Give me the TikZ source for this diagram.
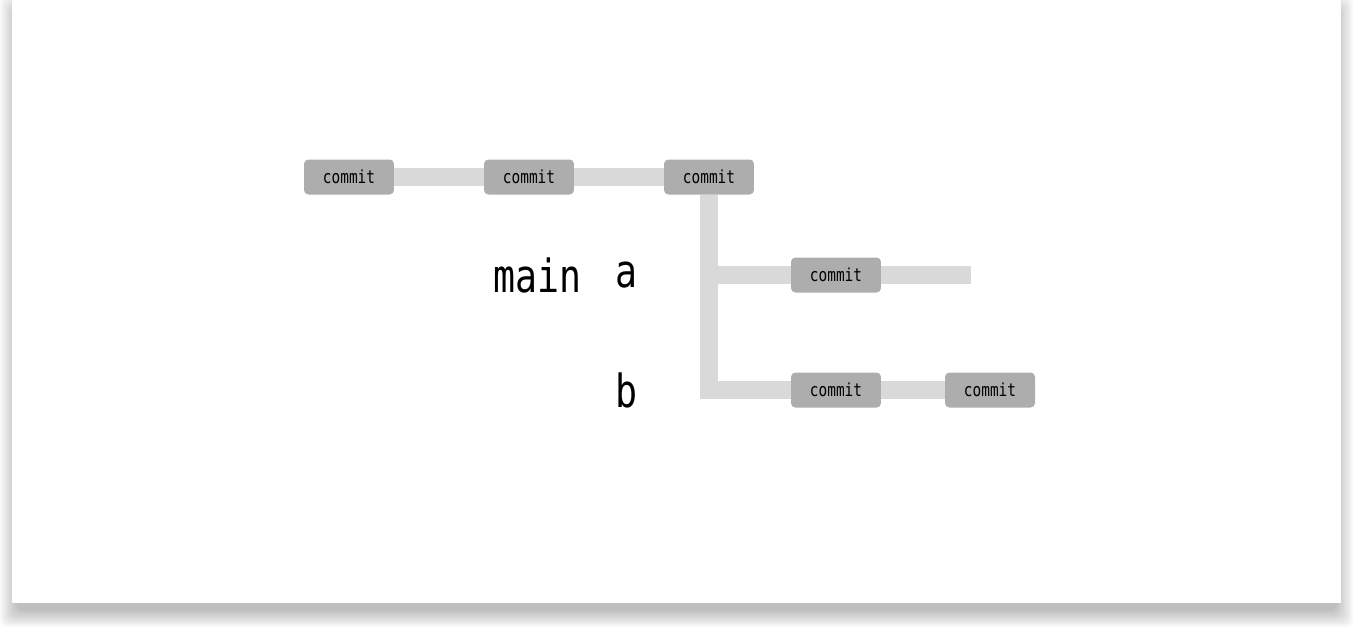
\documentclass[tikz,border=0pt]{standalone}
\usepackage{fontspec}
\newfontfamily\gitmono[FakeStretch=0.8]{DejaVu Sans Mono}
\usetikzlibrary{backgrounds}
\begin{document}
\begin{tikzpicture}[x=0.02cm, y=-0.02cm,
  commit/.style={fill=black!32, rounded corners=2.5pt, minimum width=1.8cm, minimum height=0.7cm, inner sep=0pt, font=\gitmono\fontsize{10.25}{11}\selectfont},
  branch/.style={draw=black!15, line width=0.36cm},
  bname/.style={font=\gitmono\fontsize{26}{30}\selectfont}]
  \useasboundingbox (0,0) rectangle (1353,627);
  % Commits
  \node[commit] (c1) at (349,177) {commit};
  \node[commit] (c2) at (529,177) {commit};
  \node[commit] (c3) at (709,177) {commit};
  \node[commit] (a1) at (836,275) {commit};
  \node[commit] (b1) at (836,390) {commit};
  \node[commit] (b2) at (990,390) {commit};
  \coordinate (aend) at (971,275);
  % Branch names
  \node[bname] (lmain) at (537,275) {main};
  \node[bname] (la) at (626,275) {a};
  \node[bname] (lb) at (626,390) {b};
  \begin{scope}[on background layer]
    % Card and its shadow
    \foreach \i in {1,...,12}
      \fill[black, opacity=0.022, rounded corners=4pt] (18-\i*1.5,14-\i*1.5) rectangle (1335+\i*1.5,609+\i*1.5);
    \fill[white] (12,0) rectangle (1341,603);
    % Branch lines
    \draw[branch] (c1) -- (c2) -- (c3);
    \draw[branch] (c3.south) -- (c3.south |- b1) -- (b1) -- (b2);
    \draw[branch] (c3.south |- a1) -- (a1) -- (aend);
  \end{scope}
\end{tikzpicture}
\end{document}
